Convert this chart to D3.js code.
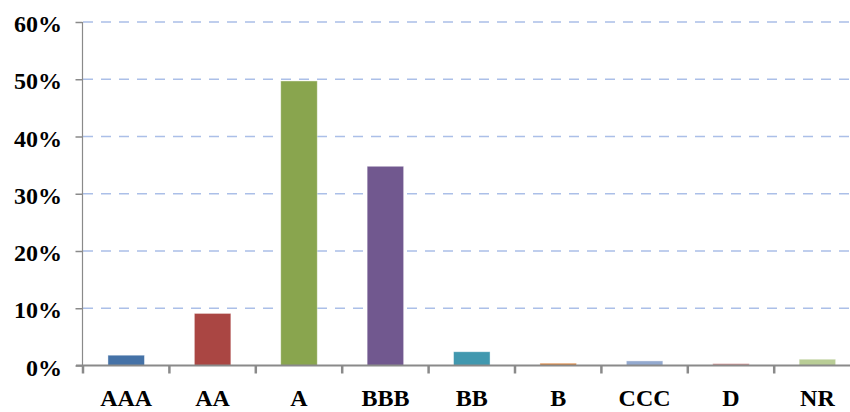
<!DOCTYPE html>
<html><head><meta charset="utf-8">
<script src="https://cdn.jsdelivr.net/npm/d3@7"></script>
<style>html,body{margin:0;padding:0;background:#fff;}svg{display:block;}</style>
</head><body><svg id="c" width="850" height="412"></svg>
<script>
const categories = ["AAA","AA","A","BBB","BB","B","CCC","D","NR"];
const values = [1.8, 9.1, 49.7, 34.8, 2.4, 0.4, 0.8, 0.35, 1.1];
const colors = ["#4572a7","#aa4643","#89a54e","#71588f","#4198af","#db843d","#93a9cf","#d19392","#b9cd96"];
const yTicks = [0,10,20,30,40,50,60];

const svg = d3.select("#c");
const x0 = 83, step = 86.4;
const x = d3.scaleBand().domain(categories).range([x0, x0 + step*categories.length]).padding(0);
const y = d3.scaleLinear().domain([0,60]).range([365.5, 22]);
const font = "'Liberation Serif','Times New Roman',serif";

// gridlines
svg.append("g").selectAll("line").data(yTicks.filter(d=>d>0)).join("line")
  .attr("x1", x0).attr("x2", 850).attr("y1", d=>y(d)).attr("y2", d=>y(d))
  .attr("stroke", "#abbfe8").attr("stroke-width", 1.6).attr("stroke-dasharray", "10,8");

// bars
const bw = 36.5;
svg.append("g").selectAll("rect").data(categories).join("rect")
  .attr("x", d=>x(d)+x.bandwidth()/2-bw/2).attr("width", bw)
  .attr("y", (d,i)=>y(values[i])).attr("height", (d,i)=>y(0)-y(values[i]))
  .attr("fill", (d,i)=>colors[i]).attr("stroke","#ffffff").attr("stroke-opacity",0.5).attr("stroke-width",0.8);

// y axis
const yAxis = d3.axisLeft(y).tickValues(yTicks).tickFormat(d=>d+"%").tickSize(7).tickPadding(12);
const gy = svg.append("g").attr("transform", `translate(${x0-0.5},0)`).call(yAxis);
gy.select(".domain").attr("stroke","#8a8a8a").attr("stroke-width",1.2).attr("d", `M0,${y(60)}V${y(0)}`);
gy.selectAll(".tick line").attr("stroke","#8a8a8a").attr("stroke-width",1.5);
gy.selectAll(".tick text").attr("font-family", font).attr("font-weight","bold").attr("font-size","24px")
  .attr("fill","#000").attr("dy","0.4em").attr("x",-20.5);

// x axis
const boundaries = d3.range(categories.length).map(i=>x0 + i*step);
const gx = svg.append("g");
gx.append("line").attr("x1", x0-7).attr("x2", 850).attr("y1", y(0)).attr("y2", y(0))
  .attr("stroke","#8a8a8a").attr("stroke-width",2);
gx.selectAll("line.t").data(boundaries).join("line").attr("class","t")
  .attr("x1", d=>d).attr("x2", d=>d).attr("y1", y(0)).attr("y2", y(0)+8)
  .attr("stroke","#8a8a8a").attr("stroke-width",2.5);
gx.selectAll("text").data(categories).join("text")
  .attr("x", d=>x(d)+x.bandwidth()/2).attr("y", 406)
  .attr("text-anchor","middle").attr("font-family", font).attr("font-weight","bold").attr("font-size","24px")
  .attr("fill","#000").text(d=>d);
</script></body></html>
